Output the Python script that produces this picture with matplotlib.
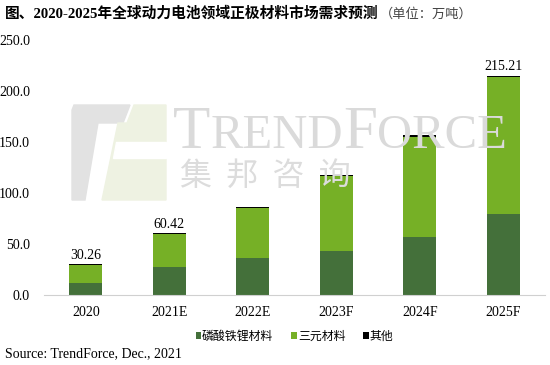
import matplotlib
matplotlib.use("Agg")
from matplotlib import pyplot as plt
from matplotlib.patches import Polygon
import numpy as np

years = ['2020', '2021E', '2022E', '2023F', '2024F', '2025F']
totals = [30.26, 60.42, 86.0, 118.0, 156.5, 215.21]
lfp = [12.0, 27.5, 36.5, 43.5, 57.0, 79.5]
other = [0.5, 0.7, 0.9, 1.1, 1.4, 1.8]
ternary = [t - l - o for t, l, o in zip(totals, lfp, other)]
labelled = {0: '30.26', 1: '60.42', 5: '215.21'}

c_lfp = '#44703a'
c_ter = '#76b026'
c_oth = '#000000'

serif = ['Liberation Serif', 'Noto Sans CJK SC']
cjk = ['Noto Sans CJK SC', 'DejaVu Sans']

W, H = 550, 365
fig = plt.figure(figsize=(5.5, 3.65), dpi=100)
ax = fig.add_axes([0.08, 0.192, 0.911, 0.698])
renderer = fig.canvas.get_renderer()


def px(pts):
    # pixel coords (from top-left) -> figure fraction
    return [[x / W, 1 - y / H] for x, y in pts]


# watermark logo
fig.patches.append(Polygon(px([(74, 105), (130, 105), (123, 123), (98, 123), (85, 200), (72, 200), (72, 110)]),
                           closed=True, transform=fig.transFigure, color='#e2e2e2', zorder=0))
fig.patches.append(Polygon(px([(134, 105), (166, 105), (166, 200), (102, 200), (118, 123), (127, 123)]),
                           closed=True, transform=fig.transFigure, color='#eef2e2', zorder=0))
fig.patches.append(Polygon(px([(116, 142), (166, 142), (166, 158), (113, 158)]),
                           closed=True, transform=fig.transFigure, color='white', zorder=0))

# watermark text, small caps
xpos = 173 / W
for s, size in [('T', 44), ('REND', 35), ('F', 44), ('ORCE', 35)]:
    t = fig.text(xpos, 1 - 148 / H, s, fontsize=size, color='#dadada', family='Liberation Serif',
                 va='baseline', ha='left', zorder=0)
    bb = t.get_window_extent(renderer)
    xpos += bb.width / W
fig.text(180 / W, 1 - 192 / H, '集  邦  咨  询', fontsize=23, color='#dcdcdc', family=cjk,
         va='bottom', ha='left', zorder=0)
ax.patch.set_alpha(0)

x = np.arange(len(years))
w = 0.4
ax.bar(x, lfp, w, color=c_lfp, label='磷酸铁锂材料', zorder=2)
ax.bar(x, ternary, w, bottom=lfp, color=c_ter, label='三元材料', zorder=2)
ax.bar(x, other, w, bottom=np.array(lfp) + np.array(ternary), color=c_oth, label='其他', zorder=2)

for i, txt in labelled.items():
    ax.text(x[i], totals[i] + 2.5, txt, ha='center', va='bottom', fontsize=10,
            family='Liberation Serif')

ax.set_xlim(-0.5, 5.5)
ax.set_ylim(0, 250)
ax.set_yticks(np.arange(0, 251, 50))
ax.set_yticklabels(['%.1f' % v for v in np.arange(0, 251, 50)], family='Liberation Serif', fontsize=10)
ax.set_xticks(x)
ax.set_xticklabels(years, family='Liberation Serif', fontsize=10)
ax.tick_params(length=0, pad=8)
ax.tick_params(axis='y', pad=10)
for s in ['top', 'right', 'left']:
    ax.spines[s].set_visible(False)
ax.spines['bottom'].set_color('#d0d0d0')

leg = ax.legend(loc='upper center', bbox_to_anchor=(0.5, -0.095), ncol=3, frameon=False,
                handlelength=0.45, handleheight=0.45, handletextpad=0.1, columnspacing=1.5,
                prop={'family': cjk, 'size': 8.6})

title = fig.text(0.009, 0.962, '图、2020-2025年全球动力电池领域正极材料市场需求预测', fontsize=10.6,
                 weight='bold', family=serif, va='center', ha='left')
tb = title.get_window_extent(renderer)
fig.text(tb.x1 / W + 0.002, 0.962, '（单位：万吨）', fontsize=9.5, color='#444444',
         family=cjk, va='center', ha='left')
fig.text(0.009, 0.032, 'Source: TrendForce, Dec., 2021', fontsize=10, family='Liberation Serif',
         va='center', ha='left')

fig.savefig('out.png', dpi=100)
